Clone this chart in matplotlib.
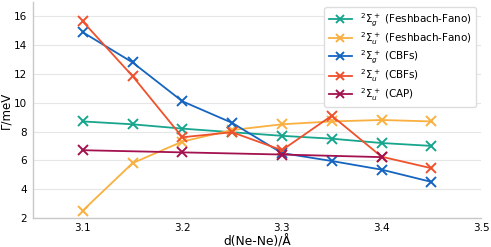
import numpy as np
import matplotlib
matplotlib.use("Agg")
import matplotlib.pyplot as plt

# distances (Angstrom)
d = [3.1, 3.15, 3.2, 3.25, 3.3, 3.35, 3.4, 3.45]
d_cap = [3.1, 3.2, 3.3, 3.4]

# widths Gamma (meV)
g_ff = [8.7, 8.5, 8.2, 7.95, 7.7, 7.5, 7.2, 7.0]
u_ff = [2.5, 5.8, 7.3, 8.1, 8.5, 8.7, 8.8, 8.7]
g_cbf = [14.9, 12.8, 10.1, 8.6, 6.5, 5.95, 5.35, 4.5]
u_cbf = [15.65, 11.85, 7.6, 7.95, 6.7, 9.1, 6.25, 5.45]
u_cap = [6.7, 6.55, 6.4, 6.22]

labels = [r"$^2\Sigma_g^+$ (Feshbach-Fano)",
          r"$^2\Sigma_u^+$ (Feshbach-Fano)",
          r"$^2\Sigma_g^+$ (CBFs)",
          r"$^2\Sigma_u^+$ (CBFs)",
          r"$^2\Sigma_u^+$ (CAP)"]
colors = ["#17a58e", "#f9b040", "#1565c0", "#f0512d", "#a3114f"]

fig = plt.figure(figsize=(4.91, 2.47), dpi=100)
ax = fig.add_axes([0.067, 0.118, 0.913, 0.874])

series = [(d, g_ff), (d, u_ff), (d, g_cbf), (d, u_cbf), (d_cap, u_cap)]
for (x, y), lab, c in zip(series, labels, colors):
    ax.plot(x, y, color=c, marker="x", markersize=7, markeredgewidth=1.4,
            linewidth=1.3, label=lab)

ax.set_xlim(3.05, 3.5)
ax.set_ylim(2, 17)
ax.set_xticks([3.1, 3.2, 3.3, 3.4, 3.5])
ax.set_yticks([2, 4, 6, 8, 10, 12, 14, 16])
ax.tick_params(length=0, labelsize=7.5, pad=4)
ax.grid(axis="y", color="#e6e6e6", linewidth=0.8)
ax.set_axisbelow(True)
for s in ["top", "right"]:
    ax.spines[s].set_visible(False)
for s in ["left", "bottom"]:
    ax.spines[s].set_color("#c8c8c8")
    ax.spines[s].set_linewidth(1.0)

ax.set_xlabel("d(Ne-Ne)/Å", fontsize=8.8, labelpad=1)
ax.set_ylabel("Γ/meV", fontsize=8.5, labelpad=1)

leg = ax.legend(loc="upper right", fontsize=7.5, markerscale=0.75,
                handlelength=2.2, labelspacing=0.15, borderpad=0.4,
                framealpha=1, edgecolor="#dddddd", fancybox=True)

fig.savefig("out.png", dpi=100)
